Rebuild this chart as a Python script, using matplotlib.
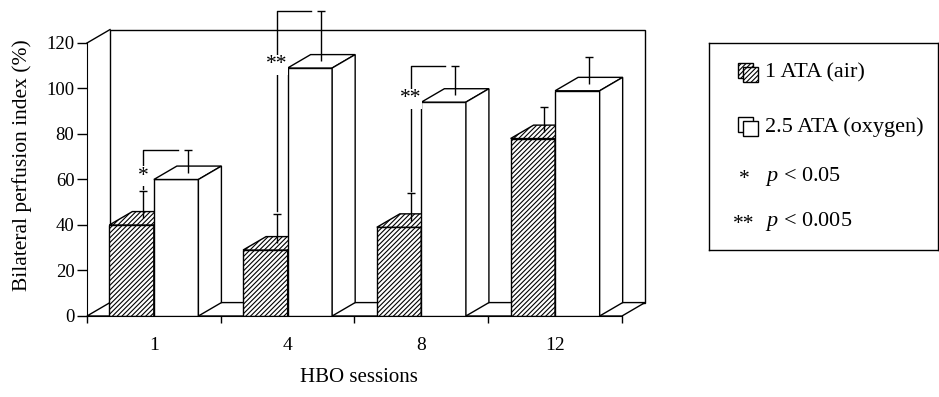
import matplotlib
matplotlib.use("Agg")
import matplotlib.pyplot as plt
from matplotlib.patches import Polygon, Rectangle

plt.rcParams['font.family'] = ['Liberation Serif', 'DejaVu Serif']
plt.rcParams['mathtext.fontset'] = 'custom'
plt.rcParams['mathtext.rm'] = 'Liberation Serif'
plt.rcParams['mathtext.it'] = 'Liberation Serif:italic'
plt.rcParams['hatch.linewidth'] = 0.8

sessions = ['1', '4', '8', '12']
air_mean = [40, 29, 39, 78]
air_err = [12, 13, 12, 11]
oxy_mean = [60, 109, 94, 99]
oxy_err = [10, 22, 13, 12]
signif = ['*', '**', '**', '']
legend_labels = ['1 ATA (air)', '2.5 ATA (oxygen)']
pval_marks = ['*', '**']
pval_labels = ['$p$ < 0.05', '$p$ < 0.005']

W, H = 939, 397
dx, dy = 0.172, 5.9      # fake 3d depth, in data units
bw = 0.333               # bar width
cw = 0.03                # half cap width
HATCH = '///////'


def box3d(ax, x, h, hatch, z):
    # front face, top face, right side face
    ax.bar(x, h, width=bw, align='edge', facecolor='white', edgecolor='black',
           hatch=hatch, lw=1, zorder=z)
    top = [(x, h), (x + bw, h), (x + bw + dx, h + dy), (x + dx, h + dy)]
    side = [(x + bw, 0), (x + bw + dx, dy), (x + bw + dx, h + dy), (x + bw, h)]
    ax.add_patch(Polygon(top, closed=True, fc='white', ec='black', lw=1,
                         hatch=hatch, zorder=z))
    ax.add_patch(Polygon(side, closed=True, fc='white', ec='black', lw=1,
                         zorder=z))


fig = plt.figure(figsize=(W / 100, H / 100), dpi=100)
ax = fig.add_axes([87 / W, 81 / H, 558 / W, 311 / H])
n = len(sessions)
x0, x1 = -0.5, n - 0.5
ax.set_xlim(x0, x1 + dx)
ax.set_ylim(0, 136.7)

# back wall and floor
ax.add_patch(Polygon([(x0 + dx, dy), (x1 + dx, dy), (x1 + dx, 120 + dy),
                      (x0 + dx, 120 + dy)], closed=True, fc='white',
                     ec='black', lw=1, zorder=1, clip_on=False))
ax.add_patch(Polygon([(x0, 0), (x1, 0), (x1 + dx, dy), (x0 + dx, dy)],
                     closed=True, fc='white', ec='black', lw=1, zorder=1,
                     clip_on=False))
ax.plot([x0, x0 + dx], [120, 120 + dy], color='black', lw=1, zorder=1,
        clip_on=False)

for i in range(n):
    box3d(ax, i - bw, air_mean[i], HATCH, 2)
    box3d(ax, i, oxy_mean[i], '', 3)

    xa = i - bw / 2 + dx / 2
    xo = i + bw / 2 + dx / 2
    ya = air_mean[i] + dy / 2
    yo = oxy_mean[i] + dy / 2
    for xe, y, e in [(xa, ya, air_err[i]), (xo, yo, oxy_err[i])]:
        ax.vlines(xe, y, y + e, color='black', lw=1, zorder=4)
        ax.hlines(y + e, xe - cw, xe + cw, color='black', lw=1, zorder=4)

    if signif[i]:
        ytop = yo + oxy_err[i]
        ax.plot([xa, xa, xo - 0.075], [ya + air_err[i] + 1, ytop, ytop],
                color='black', lw=1, zorder=4, clip_on=False)
        # asterisk glyphs sit high, so put the baseline below the centre
        ax.text(xa, yo - 3.5, signif[i], ha='center', va='baseline',
                fontsize=15.5, zorder=5,
                bbox=dict(fc='white', ec='none', pad=0.3))

for s in ['top', 'right']:
    ax.spines[s].set_visible(False)
ax.spines['left'].set_bounds(0, 120)
ax.spines['bottom'].set_bounds(x0, x1)
ax.set_yticks(range(0, 121, 20))
ax.tick_params(axis='y', length=7.5, width=1, pad=1.5, labelsize=13.5)
ax.set_xticks(range(n), labels=sessions)
ax.set_xticks([k - 0.5 for k in range(n + 1)], minor=True)
ax.tick_params(axis='x', which='major', length=0, pad=15, labelsize=14)
ax.tick_params(axis='x', which='minor', length=5, width=1)
ax.patch.set_visible(False)

fig.text(22 / W, 1 - 165 / H, 'Bilateral perfusion index (%)', rotation=90,
         ha='center', va='center', fontsize=15.5)
fig.text(359 / W, 1 - 378 / H, 'HBO sessions', ha='center', va='center',
         fontsize=15)

# legend box
lax = fig.add_axes([709 / W, 1 - 250 / H, 229 / W, 207 / H])
lax.set_xlim(0, 229)
lax.set_ylim(207, 0)
lax.set_xticks([])
lax.set_yticks([])
for s in lax.spines.values():
    s.set_linewidth(1)

rows = [30, 84, 134, 179]
for k, lab in enumerate(legend_labels):
    yc = rows[k]
    h = HATCH if k == 0 else ''
    lax.add_patch(Rectangle((29, yc - 10), 15, 15, fc='white', ec='black',
                            lw=1, hatch=h))
    lax.add_patch(Rectangle((34, yc - 6), 15, 15, fc='white', ec='black',
                            lw=1, hatch=h))
    lax.text(56, yc, lab, ha='left', va='center', fontsize=16)
for k, (mk, lab) in enumerate(zip(pval_marks, pval_labels)):
    yc = rows[k + 2]
    lax.text(35, yc + 7, mk, ha='center', va='baseline', fontsize=15.5)
    lax.text(56, yc, lab, ha='left', va='center', fontsize=16)

fig.savefig('out.png', dpi=100)
